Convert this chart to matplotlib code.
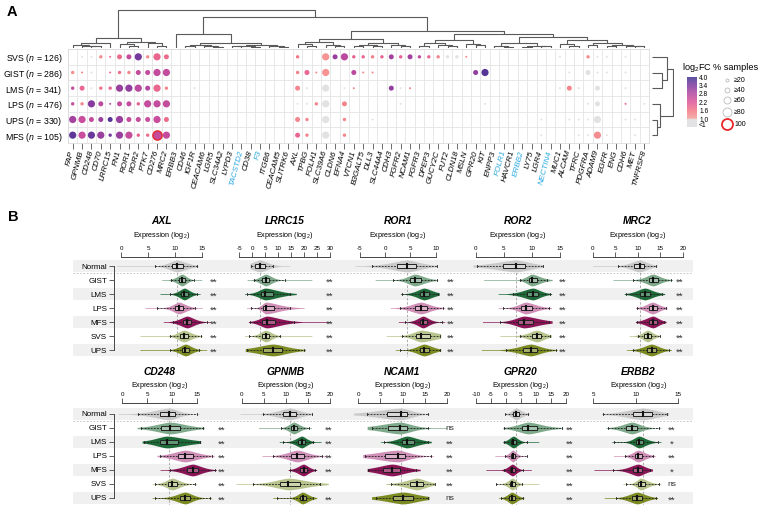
import numpy as np
import matplotlib
matplotlib.use('Agg')
import matplotlib.pyplot as plt
from matplotlib.colors import LinearSegmentedColormap
from matplotlib.patches import Rectangle
import matplotlib.transforms as mtrans

plt.rcParams['font.family'] = ['Liberation Sans', 'DejaVu Sans']
plt.rcParams['mathtext.fontset'] = 'custom'
plt.rcParams['mathtext.rm'] = 'Liberation Sans'
plt.rcParams['mathtext.it'] = 'Liberation Sans:italic'
plt.rcParams['mathtext.bf'] = 'Liberation Sans:bold'

# ------------------------------------------------------------------ data (panel A)
genes = ['FAP', 'GPNMB', 'CD248', 'CD70', 'LRRC15', 'FN1', 'ROR1', 'ROR2', 'PTK7', 'CD276', 'MRC2',
         'ERBB3', 'CD46', 'IGF1R', 'CEACAM6', 'LGR5', 'SLC34A2', 'LYPD3', 'TACSTD2', 'CD38', 'F3',
         'ITGB6', 'CEACAM5', 'SLITRK6', 'AXL', 'TPBG', 'FOLH1', 'SLC39A6', 'CLDN6', 'EFNA4', 'VTCN1',
         'B3GALT5', 'DLL3', 'SLC44A4', 'CDH3', 'FGFR2', 'NCAM1', 'FGFR3', 'DPEP3', 'GUCY2C', 'FUT2',
         'CLDN18', 'MSLN', 'GPR20', 'KIT', 'ENPP3', 'FOLR1', 'HAVCR1', 'ERBB2', 'LY75', 'LGR4',
         'NECTIN4', 'MUC1', 'ALCAM', 'TFRC', 'PDGFRA', 'ADAM9', 'EGFR', 'ENG', 'CDH6', 'MET', 'TNFRSF8']
blue_genes = ['TACSTD2', 'F3', 'FOLR1', 'ERBB2', 'NECTIN4']
groups = ['SVS', 'GIST', 'LMS', 'LPS', 'UPS', 'MFS']
group_n = [126, 286, 341, 476, 330, 105]

# gene: (log2FC, % samples); log2FC < 1 drawn grey
svs_dots = {'GPNMB': (0.5, 20), 'CD248': (0.5, 20), 'CD70': (1.3, 40), 'LRRC15': (1.8, 20), 'FN1': (1.8, 60),
            'ROR1': (2.6, 60), 'ROR2': (3.5, 80), 'PTK7': (1.3, 40), 'CD276': (1.9, 80), 'MRC2': (1.8, 60),
            'AXL': (1.6, 40), 'SLC39A6': (1.2, 80), 'CLDN6': (3.1, 60), 'EFNA4': (2.7, 80), 'VTCN1': (2.0, 40),
            'B3GALT5': (1.9, 40), 'DLL3': (1.5, 40), 'SLC44A4': (2.0, 40), 'CDH3': (3.0, 60), 'FGFR2': (2.0, 40),
            'NCAM1': (3.0, 60), 'FGFR3': (2.6, 40), 'DPEP3': (1.9, 40), 'GUCY2C': (1.4, 40), 'FUT2': (0.5, 40),
            'CLDN18': (0.5, 40), 'MSLN': (1.3, 20), 'MUC1': (0.5, 20), 'PDGFRA': (1.3, 40), 'ADAM9': (0.5, 20),
            'EGFR': (0.5, 20), 'CDH6': (0.5, 20)}
gist_dots = {'FAP': (1.3, 40), 'GPNMB': (1.4, 20), 'CD248': (0.5, 20), 'LRRC15': (1.8, 20), 'FN1': (1.8, 40),
             'ROR1': (1.4, 40), 'ROR2': (2.6, 60), 'PTK7': (2.6, 60), 'CD276': (2.6, 80), 'MRC2': (2.6, 80),
             'AXL': (1.5, 40), 'TPBG': (1.9, 60), 'FOLH1': (1.4, 20), 'SLC39A6': (1.2, 80), 'VTCN1': (2.7, 60),
             'B3GALT5': (1.4, 20), 'DLL3': (1.4, 20), 'GPR20': (3.2, 60), 'KIT': (3.8, 80), 'ALCAM': (0.5, 20),
             'PDGFRA': (0.5, 60), 'ADAM9': (0.5, 20), 'EGFR': (0.5, 20), 'CDH6': (0.5, 20)}
lms_dots = {'FAP': (2.6, 40), 'GPNMB': (1.9, 60), 'CD248': (0.5, 20), 'CD70': (1.7, 40), 'LRRC15': (1.9, 40),
            'FN1': (3.1, 80), 'ROR1': (3.2, 80), 'ROR2': (2.7, 80), 'PTK7': (2.8, 60), 'CD276': (1.9, 80),
            'MRC2': (1.4, 40), 'IGF1R': (0.5, 20), 'AXL': (1.4, 60), 'TPBG': (0.5, 20), 'SLC39A6': (0.5, 80),
            'EFNA4': (0.5, 20), 'VTCN1': (1.4, 20), 'CDH3': (3.2, 60), 'FGFR2': (0.5, 20), 'NCAM1': (1.4, 20),
            'MUC1': (0.5, 20), 'ALCAM': (1.4, 60), 'TFRC': (0.5, 20), 'ADAM9': (0.5, 60), 'CDH6': (0.5, 20)}
lps_dots = {'FAP': (2.6, 40), 'GPNMB': (1.4, 40), 'CD248': (3.3, 80), 'CD70': (2.7, 60), 'LRRC15': (2.6, 20),
            'FN1': (2.6, 60), 'ROR1': (2.6, 60), 'ROR2': (2.0, 40), 'PTK7': (2.6, 80), 'CD276': (2.6, 80),
            'MRC2': (2.6, 80), 'AXL': (0.5, 20), 'TPBG': (0.5, 20), 'FOLH1': (1.4, 40), 'SLC39A6': (0.5, 80),
            'EFNA4': (1.4, 60), 'FGFR2': (0.5, 20), 'KIT': (0.5, 20), 'PDGFRA': (0.5, 20), 'ADAM9': (0.5, 60),
            'CDH6': (1.8, 20), 'TNFRSF8': (0.5, 20)}
ups_dots = {'FAP': (3.0, 80), 'GPNMB': (2.5, 80), 'CD248': (2.6, 60), 'CD70': (3.1, 60), 'LRRC15': (3.8, 60),
            'FN1': (3.1, 80), 'ROR1': (2.6, 60), 'ROR2': (2.6, 60), 'PTK7': (2.5, 60), 'CD276': (2.5, 80),
            'MRC2': (1.8, 60), 'AXL': (1.4, 60), 'TPBG': (1.4, 40), 'SLC39A6': (0.5, 80), 'EFNA4': (1.4, 40),
            'DLL3': (0.5, 20), 'LGR4': (0.5, 20), 'ALCAM': (0.5, 20), 'TFRC': (0.5, 20), 'PDGFRA': (0.5, 20),
            'ADAM9': (0.5, 80), 'CDH6': (0.5, 20), 'MET': (0.5, 20)}
mfs_dots = {'FAP': (3.7, 80), 'GPNMB': (2.5, 80), 'CD248': (3.6, 80), 'CD70': (3.1, 80), 'LRRC15': (3.5, 40),
            'FN1': (3.1, 80), 'ROR1': (2.6, 80), 'ROR2': (2.0, 40), 'PTK7': (1.8, 40), 'CD276': (2.6, 100),
            'MRC2': (2.6, 80), 'AXL': (1.9, 60), 'TPBG': (1.4, 40), 'SLC39A6': (0.5, 80), 'EFNA4': (1.4, 40),
            'LGR4': (0.5, 20), 'TFRC': (0.5, 20), 'PDGFRA': (0.5, 20), 'ADAM9': (1.3, 80), 'EGFR': (0.5, 20),
            'MET': (0.5, 20)}
group_dots = [svs_dots, gist_dots, lms_dots, lps_dots, ups_dots, mfs_dots]

# dendrogram structures: leaf = index, node = [height, left, right]
col_tree = [1.0,
            [0.26,
             [0.14, [0.09, 0, [0.06, 1, [0.04, 2, 3]]], 4],
             [0.16, [0.10, 5, [0.05, 6, 7]], [0.12, 8, [0.06, 9, 10]]]],
            [0.80,
             [0.36, 11, [0.12, [0.07, [0.04, 12, 13], [0.05, 14, [0.03, 15, 16]]],
                         [0.09, [0.06, [0.04, 17, 18], [0.03, 19, 20]], [0.05, 21, [0.03, 22, 23]]]]],
             [0.44,
              [0.23, [0.16, [0.10, 24, [0.06, 25, 26]], [0.08, 27, [0.05, 28, 29]]],
                     [0.14, [0.08, [0.05, 30, 31], [0.04, 32, 33]], [0.09, 34, [0.05, 35, 36]]]],
              [0.36, [0.20, [0.12, [0.06, 37, 38], [0.08, 39, [0.04, 40, 41]]], [0.10, 42, [0.07, 43, 44]]],
                     [0.30, [0.14, [0.06, 45, [0.03, 46, 47]], [0.05, [0.03, 48, 49], [0.04, 50, 51]]],
                            [0.20, [0.10, 52, [0.06, 53, 54]],
                                   [0.12, [0.08, 55, 56], [0.09, [0.05, 57, 58], [0.06, 59, [0.04, 60, 61]]]]]]]]]]
row_tree = [0.95, [0.68, 0, [0.45, 1, 2]], [0.35, 3, [0.22, 4, 5]]]

fc_ticks = [4.0, 3.4, 2.8, 2.2, 1.6, 1.0]
size_levels = [20, 40, 60, 80, 100]
size_labels = ['\u226520', '\u226540', '\u226560', '\u226580', '100']

# ------------------------------------------------------------------ data (panel B)
b_groups = ['Normal', 'GIST', 'LMS', 'LPS', 'MFS', 'SVS', 'UPS']
b_genes_row1 = ['AXL', 'LRRC15', 'ROR1', 'ROR2', 'MRC2']
b_genes_row2 = ['CD248', 'GPNMB', 'NCAM1', 'GPR20', 'ERBB2']
b_ticks = {'AXL': [0, 5, 10, 15], 'LRRC15': [-5, 0, 5, 10, 15, 20, 25, 30], 'ROR1': [-5, 0, 5, 10],
           'ROR2': [0, 5, 10, 15], 'MRC2': [0, 5, 10, 15, 20], 'CD248': [0, 5, 10, 15],
           'GPNMB': [0, 5, 10, 15, 20], 'NCAM1': [0, 5, 10, 15, 20], 'GPR20': [-10, -5, 0, 5, 10, 15, 20],
           'ERBB2': [5, 10, 15]}
# per group: [min, lower whisker, Q1, median, Q3, upper whisker, max]
axl_stats = [[-0.8, 6.3, 9.4, 10.3, 11.4, 14.0, 14.2], [7.5, 9.3, 10.7, 11.3, 11.8, 13.5, 14.9],
             [7.2, 9.1, 11.1, 11.7, 12.3, 14.0, 14.6], [4.4, 6.6, 10.0, 10.7, 11.5, 13.7, 15.0],
             [7.8, 9.6, 11.4, 12.2, 13.0, 15.8, 16.5], [3.5, 9.0, 10.9, 11.6, 12.4, 14.7, 15.0],
             [3.5, 9.1, 11.2, 11.9, 12.6, 14.3, 15.8]]
lrrc15_stats = [[-0.9, -0.3, 1.0, 3.0, 4.9, 8.1, 14.5], [-2.0, 0.5, 3.9, 5.2, 6.6, 12.6, 23.0],
                [-3.0, -2.2, 3.4, 5.0, 8.1, 14.6, 17.0], [-2.2, -0.3, 4.3, 5.2, 8.4, 14.6, 20.0],
                [-1.5, -0.7, 3.9, 5.6, 8.8, 16.0, 30.0], [-3.0, -1.4, 3.9, 5.2, 6.6, 10.7, 23.0],
                [-2.7, -2.2, 4.3, 8.1, 11.4, 19.8, 20.5]]
ror1_stats = [[-6.0, -2.6, 2.4, 4.4, 6.0, 10.2, 10.3], [-2.0, 1.6, 5.0, 5.9, 7.0, 10.2, 10.4],
              [3.0, 3.3, 6.8, 7.7, 8.7, 10.5, 10.7], [1.0, 2.9, 5.9, 7.1, 8.2, 11.5, 11.8],
              [2.6, 3.9, 6.8, 7.5, 8.2, 11.2, 11.8], [0.2, 3.3, 6.1, 7.1, 8.9, 10.9, 11.0],
              [2.0, 3.0, 6.8, 7.7, 8.7, 10.9, 11.0]]
ror2_stats = [[-0.5, 0.3, 4.9, 7.2, 8.8, 11.9, 12.0], [1.4, 7.9, 9.4, 10.0, 10.9, 12.6, 13.6],
              [4.0, 6.6, 9.1, 10.2, 11.0, 13.3, 13.5], [4.0, 4.9, 8.1, 8.9, 10.0, 13.0, 13.5],
              [1.2, 4.3, 7.6, 8.6, 10.2, 13.0, 13.6], [4.3, 7.8, 10.0, 10.9, 11.7, 13.3, 13.5],
              [1.0, 5.4, 8.5, 9.8, 10.9, 14.2, 14.5]]
mrc2_stats = [[0.0, 5.7, 9.2, 10.4, 11.5, 14.1, 14.3], [4.5, 9.0, 12.4, 13.4, 14.4, 17.3, 17.8],
              [7.0, 7.4, 10.5, 11.6, 12.7, 15.5, 16.0], [9.5, 9.8, 12.4, 13.3, 14.2, 16.3, 16.5],
              [9.5, 9.8, 12.4, 13.4, 14.2, 15.9, 16.3], [8.1, 10.0, 11.5, 12.2, 12.9, 14.9, 15.0],
              [7.5, 9.0, 12.0, 13.1, 14.1, 17.0, 17.5]]
cd248_stats = [[-0.8, 3.2, 7.6, 9.5, 10.6, 15.0, 15.5], [3.0, 3.7, 7.9, 9.7, 11.6, 16.2, 16.5],
               [4.0, 4.3, 7.5, 9.0, 11.3, 15.6, 15.8], [7.0, 7.6, 11.2, 12.7, 14.2, 18.0, 18.5],
               [7.6, 9.6, 13.0, 14.2, 15.3, 18.7, 19.0], [6.0, 6.6, 9.3, 10.1, 11.0, 14.7, 15.0],
               [6.0, 6.6, 11.6, 12.7, 13.6, 17.7, 18.0]]
gpnmb_stats = [[-0.4, 4.9, 9.3, 10.9, 12.3, 15.9, 16.0], [3.8, 9.0, 11.1, 11.8, 12.6, 15.3, 15.8],
               [8.5, 9.4, 12.8, 13.6, 14.3, 16.2, 18.0], [4.6, 7.2, 11.2, 12.6, 14.0, 18.1, 19.2],
               [10.5, 10.9, 13.2, 14.0, 14.7, 16.6, 17.0], [-1.3, 2.5, 8.7, 10.6, 13.1, 17.7, 19.6],
               [7.0, 8.0, 13.1, 13.8, 14.6, 16.2, 17.0]]
ncam1_stats = [[-1.1, 1.9, 6.4, 9.6, 11.1, 15.8, 16.0], [2.0, 3.0, 6.8, 9.5, 11.1, 15.8, 20.0],
               [5.0, 5.8, 9.8, 11.0, 12.5, 15.8, 16.5], [1.0, 1.6, 6.0, 8.9, 10.5, 16.5, 17.0],
               [2.0, 2.2, 5.7, 7.7, 9.4, 13.1, 14.0], [6.2, 7.3, 11.7, 13.3, 14.6, 17.3, 17.3],
               [3.0, 3.9, 7.8, 10.2, 12.3, 15.8, 16.0]]
gpr20_stats = [[-0.5, -0.3, 2.5, 3.4, 4.5, 7.5, 7.8], [-1.0, -0.6, 5.3, 7.5, 10.3, 18.7, 19.0],
               [-1.0, -0.6, 1.6, 2.5, 3.4, 6.9, 11.0], [-3.7, -0.3, 1.6, 2.3, 3.0, 6.9, 7.0],
               [-6.7, -0.6, 1.3, 2.2, 3.0, 5.8, 8.5], [-3.5, -3.2, 1.3, 2.2, 3.0, 5.3, 11.0],
               [-2.5, -1.8, 1.1, 2.0, 3.0, 5.8, 6.0]]
erbb2_stats = [[6.0, 6.2, 9.7, 10.9, 11.9, 13.7, 13.9], [6.5, 6.8, 8.9, 9.6, 10.2, 12.8, 13.0],
               [7.2, 7.5, 10.0, 10.4, 10.9, 12.6, 13.0], [7.4, 8.7, 9.9, 10.3, 10.8, 12.1, 12.3],
               [5.1, 7.4, 9.7, 10.3, 10.8, 11.7, 12.0], [8.5, 8.9, 10.3, 10.6, 11.1, 12.8, 13.0],
               [6.3, 7.7, 9.6, 10.2, 10.8, 12.4, 12.6]]
b_stats = {'AXL': axl_stats, 'LRRC15': lrrc15_stats, 'ROR1': ror1_stats, 'ROR2': ror2_stats,
           'MRC2': mrc2_stats, 'CD248': cd248_stats, 'GPNMB': gpnmb_stats, 'NCAM1': ncam1_stats,
           'GPR20': gpr20_stats, 'ERBB2': erbb2_stats}
# significance vs Normal for GIST, LMS, LPS, MFS, SVS, UPS
b_sig = {'AXL': ['**'] * 6, 'LRRC15': ['**'] * 6, 'ROR1': ['**'] * 6, 'ROR2': ['**'] * 6,
         'MRC2': ['**'] * 6, 'CD248': ['**'] * 6, 'GPNMB': ['**', '**', '**', '**', '', '**'],
         'NCAM1': ['ns', '**', '**', '**', '**', 'ns'], 'GPR20': ['**'] * 6,
         'ERBB2': ['**', '*', '**', '*', 'ns', '**']}

# ------------------------------------------------------------------ styles / layout
W, H = 758, 507
fig = plt.figure(figsize=(W / 100, H / 100), dpi=100)
fig.patch.set_facecolor('white')


def px_axes(x0, y0, x1, y1):
    return fig.add_axes([x0 / W, 1 - y1 / H, (x1 - x0) / W, (y1 - y0) / H])


def ftext(x, y, s, **kw):
    return fig.text(x / W, 1 - y / H, s, **kw)


cmap = LinearSegmentedColormap.from_list(
    'fc', [(0.0, '#f6a39b'), (0.2, '#f27784'), (0.4, '#e0559a'), (0.6, '#b4479f'),
           (0.8, '#80399f'), (1.0, '#3f3593')])
grey_dot = '#e2e2e4'
size_px = {20: 2.0, 40: 3.4, 60: 5.0, 80: 7.2, 100: 9.2}


def fc_color(v):
    return grey_dot if v < 1 else cmap((min(v, 4.0) - 1.0) / 3.0)


# ------------------------------------------------------------------ panel A
gx0, gy0, gx1, gy1 = 68, 49, 649, 143
axA = px_axes(gx0, gy0, gx1, gy1)
ng = len(genes)
axA.set_xlim(-0.5, ng - 0.5)
axA.set_ylim(len(groups) - 0.5, -0.5)
for i in range(ng + 1):
    axA.axvline(i - 0.5, color='#e4e4e4', lw=0.6, zorder=0)
for j in range(len(groups) + 1):
    axA.axhline(j - 0.5, color='#e4e4e4', lw=0.6, zorder=0)
for r, dd in enumerate(group_dots):
    for g, (fc, pct) in dd.items():
        d = size_px[pct] * 0.72
        axA.scatter(genes.index(g), r, s=d * d, color=fc_color(fc),
                    edgecolors='#e8262b' if pct == 100 else 'none',
                    linewidths=1.0 if pct == 100 else 0, zorder=3)
for s in axA.spines.values():
    s.set_color('#dcdcdc')
    s.set_linewidth(0.6)
axA.set_xticks(range(ng))
axA.set_xticklabels(genes, rotation=75, ha='right', va='center', rotation_mode='anchor',
                    fontsize=5.9, style='italic')
for lab in axA.get_xticklabels():
    if lab.get_text() in blue_genes:
        lab.set_color('#2aa9e0')
axA.tick_params(axis='x', length=4, width=0.6, color='#555', pad=1.5)
axA.set_yticks(range(len(groups)))
axA.set_yticklabels(['%s ($\\it{n}$ = %d)' % (g, n) for g, n in zip(groups, group_n)], fontsize=6.3)
axA.tick_params(axis='y', length=0, pad=4)


def draw_tree(ax, node, horizontal_leaves=True, color='#555', lw=0.7):
    if not isinstance(node, list):
        return float(node), 0.0
    h, left, right = node
    xl, hl = draw_tree(ax, left, horizontal_leaves, color, lw)
    xr, hr = draw_tree(ax, right, horizontal_leaves, color, lw)
    if horizontal_leaves:
        ax.plot([xl, xl, xr, xr], [hl, h, h, hr], color=color, lw=lw, solid_capstyle='butt')
    else:
        ax.plot([hl, h, h, hr], [xl, xl, xr, xr], color=color, lw=lw, solid_capstyle='butt')
    return (xl + xr) / 2.0, h


axT = px_axes(gx0, 9, gx1, 48)
axT.set_xlim(-0.5, ng - 0.5)
axT.set_ylim(0, 1.02)
draw_tree(axT, col_tree, True, color='#5a5a5a', lw=0.8)
axT.axis('off')

axR = px_axes(652, gy0, 674, gy1)
axR.set_ylim(len(groups) - 0.5, -0.5)
axR.set_xlim(0, 1.0)
draw_tree(axR, row_tree, False, color='#5a5a5a', lw=0.8)
axR.axis('off')

# legend
ftext(682, 67, 'log$_2$FC', fontsize=6.6, ha='left', va='center')
ftext(713, 67, '% samples', fontsize=6.6, ha='left', va='center')
axC = px_axes(687, 77, 697, 127.4)
axC.set_xlim(0, 1)
axC.set_ylim(0.4, 4.0)
grad = np.linspace(1.0, 4.0, 200).reshape(-1, 1)
axC.imshow(grad, extent=[0, 1, 1.0, 4.0], origin='lower', aspect='auto', cmap=cmap, vmin=1, vmax=4, alpha=0.85)
axC.axhspan(0.4, 1.0, color=grey_dot)
axC.set_xticks([])
axC.yaxis.tick_right()
axC.set_yticks(fc_ticks + [0.58])
axC.set_yticklabels(['%.1f' % v for v in fc_ticks] + ['<1'], fontsize=4.8)
axC.tick_params(axis='y', length=0, pad=1.5)
for s in axC.spines.values():
    s.set_visible(False)

axS = px_axes(715, 74, 758, 130)
axS.set_xlim(0, 43)
axS.set_ylim(130, 74)
for k, (lv, lab) in enumerate(zip(size_levels, size_labels)):
    yy = [80, 90, 100, 112, 124][k]
    d = [3.0, 5.0, 7.0, 9.0, 11.0][k] * 0.72
    axS.scatter(12, yy, s=d * d, facecolors='white',
                edgecolors='#e8262b' if lv == 100 else '#bbbbbb',
                linewidths=1.3 if lv == 100 else 0.6)
    axS.text(19, yy, lab, fontsize=5.0, ha='left', va='center')
axS.axis('off')

ftext(12, 12, 'A', fontsize=10.5, weight='bold', ha='center', va='center')
ftext(13, 217, 'B', fontsize=10.5, weight='bold', ha='center', va='center')

# ------------------------------------------------------------------ panel B
b_colors = ['#c9c9c9', '#7ea98a', '#1d6a38', '#cf8fb7', '#8b1457', '#b8c48d', '#7c8a22']
row_layout = [
    dict(genes=b_genes_row1, title_y=221, expr_y=236, top=257, normal=266,
         calib={'AXL': (121, 202.3), 'LRRC15': (239.3, 330), 'ROR1': (360, 435.7),
                'ROR2': (475.7, 560), 'MRC2': (592.7, 682.7)},
         extent={'AXL': (113, 220), 'LRRC15': (236, 336), 'ROR1': (350, 457),
                 'ROR2': (470, 569), 'MRC2': (586, 686)}),
    dict(genes=b_genes_row2, title_y=372, expr_y=385.5, top=403, normal=414,
         calib={'CD248': (122.3, 196.7), 'GPNMB': (241.7, 330), 'NCAM1': (358.3, 446.7),
                'GPR20': (476, 565.7), 'ERBB2': (593.3, 683.3)},
         extent={'CD248': (116, 228), 'GPNMB': (236, 335), 'NCAM1': (350, 456),
                 'GPR20': (470, 576), 'ERBB2': (590, 678)}),
]
rowh = 14.0
ng_b = len(b_groups)


def draw_violin(ax, y, st, color):
    vmin, wlo, q1, med, q3, whi, vmax = st
    xs = np.linspace(vmin, vmax, 300)
    sl = max(med - q1, 0.05) / 0.674
    sr = max(q3 - med, 0.05) / 0.674
    sig = np.where(xs < med, sl, sr)
    dens = np.exp(-0.5 * np.abs((xs - med) / sig) ** 1.6)
    dens = np.maximum(dens, 0.06)
    hw = 0.42 * dens
    ax.fill_between(xs, y - hw, y + hw, color=color, lw=0, zorder=2)
    bh = 0.17
    ax.plot([wlo, q1], [y, y], color='#222', lw=0.6, ls=(0, (2.2, 1.5)), zorder=3)
    ax.plot([q3, whi], [y, y], color='#222', lw=0.6, ls=(0, (2.2, 1.5)), zorder=3)
    for w in (wlo, whi):
        ax.plot([w, w], [y - 0.1, y + 0.1], color='#222', lw=0.6, zorder=3)
    ax.add_patch(Rectangle((q1, y - bh), q3 - q1, 2 * bh, facecolor=(1, 1, 1, 0.3),
                           edgecolor='#222', lw=0.7, zorder=4))
    ax.plot([med, med], [y - bh, y + bh], color='#111', lw=1.5, zorder=5)


for lay in row_layout:
    top = lay['top']
    ytop = -(lay['normal'] - top) / rowh
    bottom = lay['normal'] + (ng_b - 0.5) * rowh
    ylim = (ng_b - 0.5, ytop)
    # background stripes
    axbg = px_axes(73, top, 693, bottom)
    axbg.set_xlim(0, 1)
    axbg.set_ylim(*ylim)
    for i in range(0, ng_b, 2):
        axbg.axhspan(i - 0.44, i + 0.44, color='#f0f0f1', lw=0)
    axbg.axhline(0.5, color='#bdbdbd', lw=0.6, ls=(0, (2, 2)))
    axbg.axis('off')
    # frame with category labels
    axf = px_axes(114, top, 693, bottom)
    axf.set_ylim(*ylim)
    axf.patch.set_alpha(0)
    for k in ['top', 'right', 'bottom']:
        axf.spines[k].set_visible(False)
    axf.spines['left'].set_bounds(0, ng_b - 1)
    axf.spines['left'].set_linewidth(0.7)
    axf.spines['left'].set_color('#444')
    axf.set_xticks([])
    axf.set_yticks(range(ng_b))
    axf.set_yticklabels(b_groups, fontsize=5.8)
    axf.tick_params(axis='y', length=3.5, width=0.6, color='#444', pad=1.5)
    for g in lay['genes']:
        p0, p1 = lay['calib'][g]
        L, R = lay['extent'][g]
        tk = b_ticks[g]
        v0, v1 = tk[0], tk[-1]
        sc = (p1 - p0) / (v1 - v0)
        ax = px_axes(L, top, R, bottom)
        ax.patch.set_alpha(0)
        ax.set_xlim(v0 - (p0 - L) / sc, v1 + (R - p1) / sc)
        ax.set_ylim(*ylim)
        for k in ['left', 'right', 'bottom']:
            ax.spines[k].set_visible(False)
        ax.spines['top'].set_bounds(v0, v1)
        ax.spines['top'].set_linewidth(0.7)
        ax.spines['top'].set_color('#444')
        ax.xaxis.tick_top()
        ax.set_xticks(tk)
        ax.set_xticklabels([str(t) for t in tk])
        ax.tick_params(axis='x', labelsize=4.5, length=3.5, width=0.6, color='#444', pad=1)
        ax.set_yticks([])
        st = b_stats[g]
        nmed = st[0][3]
        ax.plot([nmed, nmed], [-0.45, ng_b - 0.5], color='#a0a0a0', lw=0.6, ls=(0, (3, 2)), zorder=1)
        for i, (s, c) in enumerate(zip(st, b_colors)):
            draw_violin(ax, i, s, c)
        tr = mtrans.blended_transform_factory(ax.transAxes, ax.transData)
        for i, lab in enumerate(b_sig[g]):
            if lab:
                ax.text(1 - 6.0 / (R - L), i + 1 + (0.17 if '*' in lab else 0.0), lab, transform=tr,
                        fontsize=6.8 if '*' in lab else 6.0, ha='center', va='center', color='#333')
        cx = (p0 + p1) / 2
        ftext(cx, lay['title_y'], g, fontsize=7.4, weight='bold', style='italic', ha='center', va='center')
        ftext(cx, lay['expr_y'], 'Expression (log$_2$)', fontsize=5.2, ha='center', va='center')

fig.savefig('out.png', dpi=100, facecolor='white')
